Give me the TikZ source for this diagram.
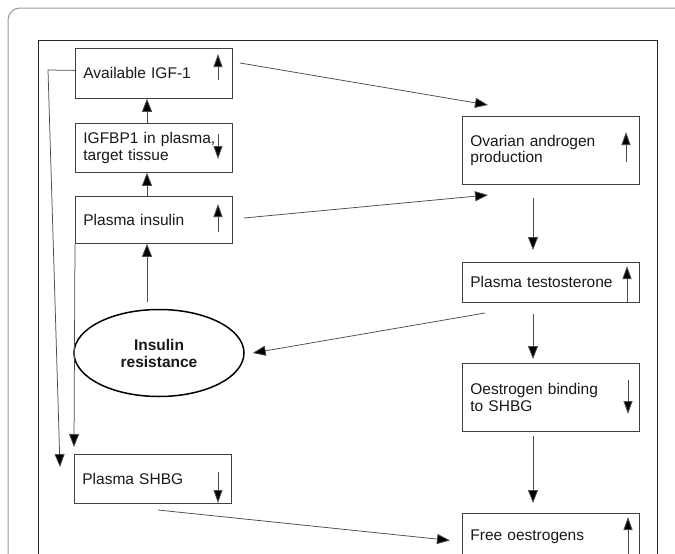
\documentclass[tikz,border=0pt]{standalone}
\usepackage{fontspec}
\setmainfont{Liberation Sans}
\usetikzlibrary{arrows.meta,shapes.geometric}
\begin{document}
\begin{tikzpicture}[x=1pt,y=-1pt,
 box/.style={draw=black!75, line width=0.8pt, rectangle, align=left, inner xsep=8pt, inner ysep=0pt, font=\fontsize{15.5}{16.5}\selectfont, text=black!90, anchor=north west},
 lbox/.style={box, minimum width=157pt, text width=141pt},
 rbox/.style={box, minimum width=177pt, text width=161pt},
 conn/.style={draw=black!70, line width=0.75pt, -{Triangle[length=13pt,width=10pt,fill=black]}},
 ind/.style={draw=black!70, line width=0.9pt, -{Triangle[length=13pt,width=9pt,fill=black]}}]
\useasboundingbox (0,0) rectangle (675,554);
\fill[white] (0,0) rectangle (675,554);
\clip (0,0) rectangle (675,554);
% frames
\draw[black!40, line width=1pt, rounded corners=12pt] (8,700) -- (8,8) -- (700,8);
\draw[black!85, line width=1pt] (38,600) -- (38,40) -- (657,40) -- (657,600);
% nodes
\node[lbox, minimum height=50pt] (igf) at (75,48) {Available IGF-1};
\node[lbox, minimum height=49pt] (igfbp) at (75,123) {IGFBP1 in plasma,\\target tissue};
\node[lbox, minimum height=47pt] (ins) at (75,196) {Plasma insulin};
\node[ellipse, draw=black, line width=1.5pt, minimum width=170pt, minimum height=87pt, inner sep=0pt, align=center, font=\fontsize{15.5}{17}\selectfont\bfseries, text=black!90] (ir) at (159,353) {Insulin\\resistance};
\node[lbox, minimum height=49pt] (shbg) at (74,454) {Plasma SHBG};
\node[rbox, minimum height=68pt] (ova) at (462,116) {Ovarian androgen\\production};
\node[rbox, minimum height=40pt] (test) at (462,262) {Plasma testosterone};
\node[rbox, minimum height=68pt] (oeb) at (462,363) {Oestrogen binding\\to SHBG};
\node[rbox, minimum height=46pt] (free) at (462,513) {Free oestrogens};
% free ends
\coordinate (igfR) at (240,63);
\coordinate (ovaT) at (488,105);
\coordinate (insR) at (244,218);
\coordinate (ovaL) at (488,195);
\coordinate (irT) at (147,302);
\coordinate (testL) at (485,313);
\coordinate (shbgB) at (158,510);
\coordinate (lc) at (48,70);
\coordinate (le) at (60,467);
% connectors
\draw[conn] (igfR) -- (ovaT);
\draw[conn] (insR) -- (ovaL);
\draw[conn] ([xshift=72pt]igfbp.north west) -- ([xshift=72pt]igf.south west);
\draw[conn] ([xshift=72pt]ins.north west) -- ([xshift=72pt]igfbp.south west);
\draw[conn] (irT) -- ([xshift=72pt]ins.south west);
\draw[conn] ([xshift=71pt,yshift=-13pt]ova.south west) -- ([xshift=71pt,yshift=12pt]test.north west);
\draw[conn] ([xshift=71pt,yshift=-11pt]test.south west) -- ([xshift=71pt,yshift=4pt]oeb.north west);
\draw[conn] ([xshift=71pt,yshift=-4pt]oeb.south west) -- ([xshift=71pt,yshift=10pt]free.north west);
\draw[conn] (testL) -- ([xshift=8pt]ir.east);
\draw[conn] (shbgB) -- ([xshift=-12pt,yshift=-4pt]free.west);
\draw[conn] ([yshift=3pt]igf.west) -- (lc) -- (le);
\draw[conn] (ins.south west) -- ([yshift=7pt]shbg.north west);
% indicator arrows
\draw[ind] (218,80) -- (218,54);
\draw[ind] (218,134) -- (218,159);
\draw[ind] (218,232) -- (218,204);
\draw[ind] (218,472) -- (218,503);
\draw[ind] (626,162) -- (626,132);
\draw[ind] (627,302) -- (627,266);
\draw[ind] (628,380) -- (628,414);
\draw[ind] (628,556) -- (628,517);
\end{tikzpicture}
\end{document}
